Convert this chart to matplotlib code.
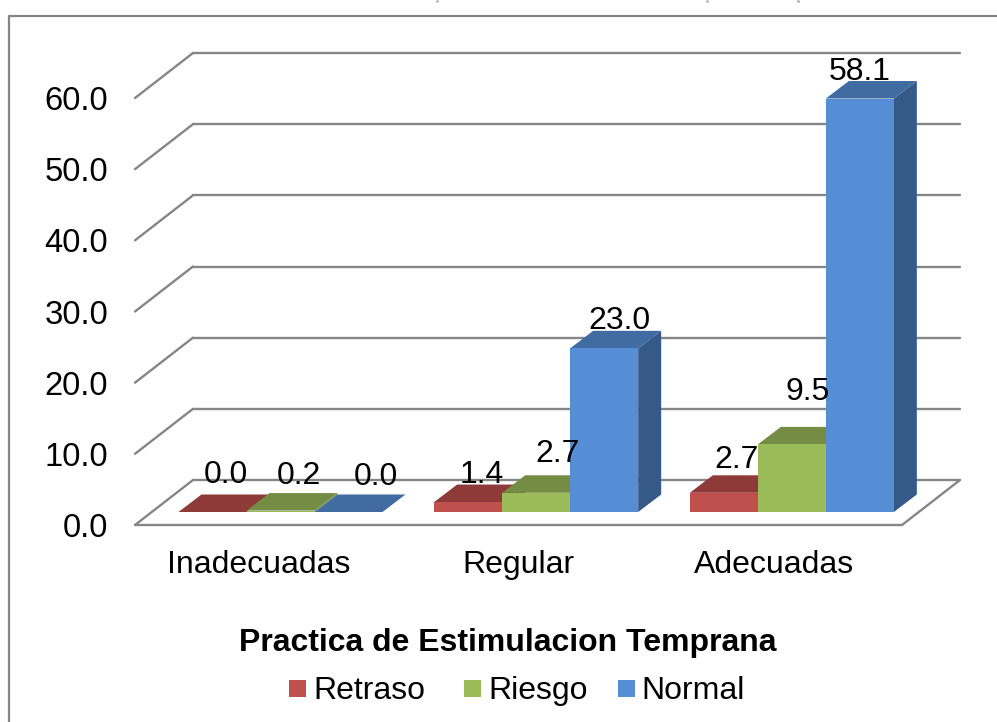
import matplotlib
matplotlib.use('Agg')
import matplotlib.pyplot as plt
from matplotlib.lines import Line2D
from matplotlib.patches import Polygon, Rectangle

plt.rcParams['font.family'] = ['Liberation Sans', 'DejaVu Sans']

# data
categories = ['Inadecuadas', 'Regular', 'Adecuadas']
series_names = ['Retraso', 'Riesgo', 'Normal']
retraso = [0.0, 1.4, 2.7]
riesgo = [0.2, 2.7, 9.5]
normal = [0.0, 23.0, 58.1]
y_ticks = [0, 10, 20, 30, 40, 50, 60]

# colours: front, top, side
front_cols = ['#C0504D', '#9BBB59', '#558ED5']
top_cols = ['#8E3A38', '#748C43', '#416CA1']
side_cols = ['#8E3A38', '#748C43', '#355A88']
grid_col = '#868686'

W, H = 997, 722
fig = plt.figure(figsize=(W / 100, H / 100), dpi=100, facecolor='white')

# axes = front plane of the floor/side wall, in pixels of the picture
left, right, top, bottom = 135, 902, 98, 525
ax = fig.add_axes([left / W, (H - bottom) / H, (right - left) / W, (bottom - top) / H])
ax.set_xlim(0, 3)
ax.set_ylim(0, 60)
ax.patch.set_visible(False)
for s in ax.spines.values():
    s.set_visible(False)

px_x = 3 / (right - left)
px_y = 60 / (bottom - top)

# wall depth and bar geometry
wall_dx, wall_dy = 58 * px_x, 45 * px_y
bar_dx, bar_dy = 23 * px_x, 17.5 * px_y
bar_w = 68 * px_x
bar_x0 = 43.5 * px_x
bar_y0 = 13 * px_y

# label nudges from the top of each bar, in pixels
nudges = [
    [(1.5, 19.5), (2.5, 9.5), (1, 15)],
    [(7, 17), (10, 21), (4.5, 35)],
    [(16, 17.5), (4, 10), (-12, 9.5)],
]

# walls
for v in y_ticks:
    ax.plot([wall_dx, 3 + wall_dx], [v + wall_dy, v + wall_dy], color=grid_col, lw=1.7,
            clip_on=False, zorder=1, solid_capstyle='round')
    ax.plot([0, wall_dx], [v, v + wall_dy], color=grid_col, lw=1.7,
            clip_on=False, zorder=1, solid_capstyle='round')
ax.plot([0, 3, 3 + wall_dx], [0, 0, wall_dy], color=grid_col, lw=1.7,
        clip_on=False, zorder=1, solid_capstyle='round')

# bars, left to right so each one covers the side of the previous
z = 2
for i in range(len(categories)):
    for j, vals in enumerate([retraso, riesgo, normal]):
        v = vals[i]
        x0 = i + bar_x0 + j * bar_w
        x1 = x0 + bar_w
        y0 = bar_y0
        y1 = bar_y0 + v
        ax.add_patch(Polygon([(x1, y0), (x1 + bar_dx, y0 + bar_dy), (x1 + bar_dx, y1 + bar_dy), (x1, y1)],
                             facecolor=side_cols[j], edgecolor='none', clip_on=False, zorder=z))
        ax.add_patch(Polygon([(x0, y1), (x1, y1), (x1 + bar_dx, y1 + bar_dy), (x0 + bar_dx, y1 + bar_dy)],
                             facecolor=top_cols[j], edgecolor='none', clip_on=False, zorder=z))
        ax.add_patch(Polygon([(x0, y0), (x1, y0), (x1, y1), (x0, y1)],
                             facecolor=front_cols[j], edgecolor='none', clip_on=False, zorder=z))
        z += 1
        nx, ny = nudges[j][i]
        ax.annotate(f'{v:.1f}', xy=(x0 + bar_w / 2 + bar_dx / 2, y1 + bar_dy), xytext=(nx, ny),
                    textcoords='offset pixels', ha='center', va='center',
                    fontsize=23, color='black', zorder=50, annotation_clip=False)

# axis text
ax.set_yticks(y_ticks)
ax.set_yticklabels([f'{v:.1f}' for v in y_ticks])
ax.set_xticks([0.485, 1.5, 2.5])
ax.set_xticklabels(categories)
ax.tick_params(axis='y', length=0, pad=19.3, labelsize=23.6)
ax.tick_params(axis='x', length=0, pad=18.2, labelsize=23)

fig.text(507.5 / W, 1 - 643 / H, 'Practica de Estimulacion Temprana', ha='center', va='center',
         fontsize=23, fontweight='bold', color='black')

# legend, placed by hand because the gaps are uneven in the original
legend_sq_x = [289, 464, 618]
legend_txt_x = [313, 488, 641]
for name, col, sx, tx in zip(series_names, front_cols, legend_sq_x, legend_txt_x):
    fig.add_artist(Rectangle((sx / W, 1 - 697 / H), 17 / W, 17 / H, facecolor=col, edgecolor='none',
                             transform=fig.transFigure))
    fig.text(tx / W, 1 - 691 / H, name, ha='left', va='center', fontsize=23, color='black')

# outer chart frame, cut by the crop on the right and bottom
fig.add_artist(Line2D([8.5 / W, 8.5 / W, 1], [0, 1 - 16 / H, 1 - 16 / H], color=grid_col, lw=1.6))

# descender stubs of the title cropped away at the top edge
for sx in [437, 707, 798]:
    fig.add_artist(Line2D([sx / W, sx / W], [1, 1 - 1.5 / H], color='#a0a0a0', lw=1.8,
                          solid_capstyle='butt'))

fig.savefig('out.png', dpi=100, facecolor='white')
